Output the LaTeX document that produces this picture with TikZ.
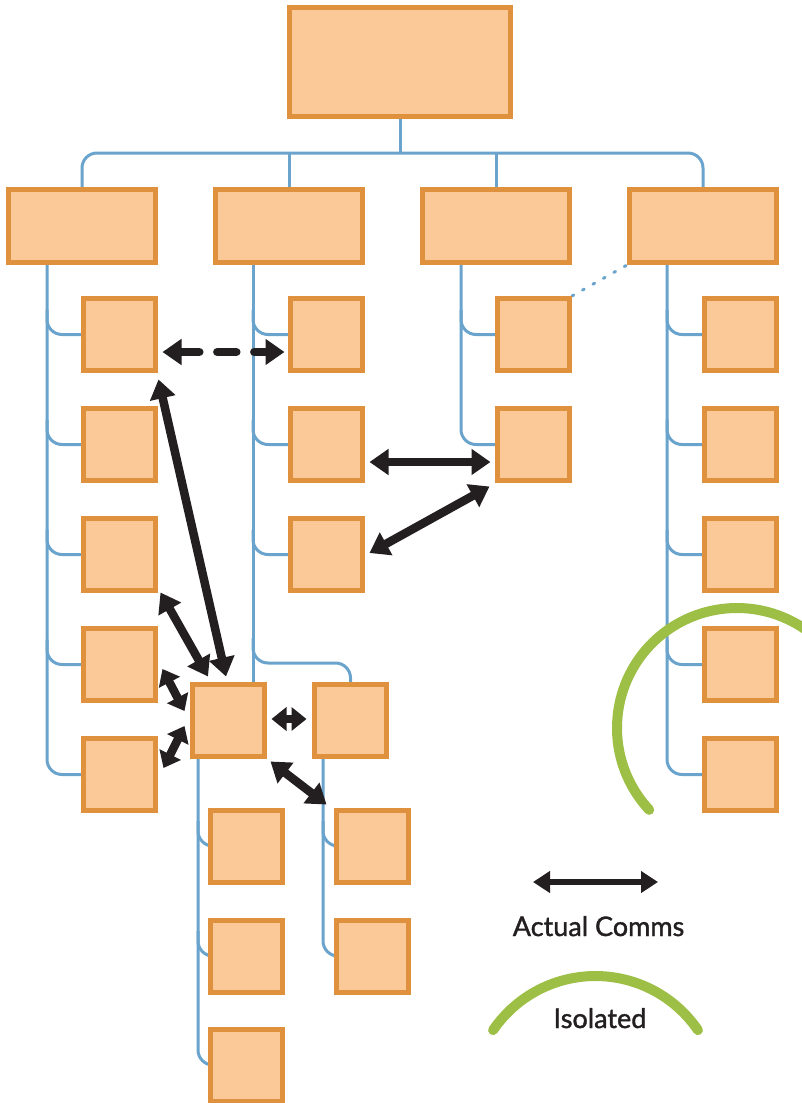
\documentclass[tikz,border=0pt]{standalone}
\usepackage{fontspec}
\setmainfont{Lato}[FakeBold=1.4]
\usetikzlibrary{arrows.meta,calc,backgrounds}
\definecolor{boxfill}{HTML}{FBC898}
\definecolor{boxline}{HTML}{E0913D}
\definecolor{treeblue}{HTML}{6AA3CC}
\definecolor{commblack}{HTML}{231F20}
\definecolor{isogreen}{HTML}{9DBF45}
\begin{document}
\begin{tikzpicture}[x=1pt,y=-1pt,
  box/.style={draw=boxline,fill=boxfill,line width=5pt,inner sep=0pt,minimum width=72pt,minimum height=72pt},
  bigbox/.style={box,minimum width=147pt,minimum height=73pt},
  tree/.style={draw=treeblue,line width=3pt,rounded corners=15pt},
  dotline/.style={draw=treeblue,line width=3pt,dash pattern=on 2pt off 10pt,line cap=round},
  comm/.style={draw=commblack,line width=8.5pt,{Triangle[length=19pt,width=25pt]}-{Triangle[length=19pt,width=25pt]}},
  shortcomm/.style={draw=commblack,line width=8.5pt,{Triangle[length=15pt,width=23pt]}-{Triangle[length=15pt,width=23pt]}},
  dashcomm/.style={comm,dash pattern=on 19pt off 18pt,line cap=round},
  legendcomm/.style={draw=commblack,line width=5.5pt,{Triangle[length=17pt,width=21pt]}-{Triangle[length=17pt,width=21pt]}},
  iso/.style={draw=isogreen,line width=10pt,line cap=round},
  lbl/.style={anchor=base,text=commblack,font=\fontsize{27}{31}\selectfont}]
\useasboundingbox (0,0) rectangle (802,1103);
\clip (0,0) rectangle (802,1103);

% trunk coordinates
\coordinate (t1) at (47,0);
\coordinate (t2) at (253,0);
\coordinate (t3) at (461,0);
\coordinate (t4) at (667,0);
\coordinate (t5) at (198,0);
\coordinate (t6) at (323,0);
\coordinate (bus) at (400,153);
\coordinate (j2) at (253,663);

% boxes
\node[box,minimum width=221pt,minimum height=109pt] (top) at (400,62) {};
\node[bigbox] (La) at (82,226) {};
\node[bigbox] (Lb) at (289,226) {};
\node[bigbox] (Lc) at (496,226) {};
\node[bigbox] (Ld) at (703,226) {};

\foreach \r/\y in {1/334.5,2/444.5,3/554.5,4/664.5,5/774.5} {
  \node[box] (c1r\r) at (119.5,\y) {};
  \node[box] (c4r\r) at (740.5,\y) {};
}
\foreach \r/\y in {1/334.5,2/444.5,3/554.5} {
  \node[box] (c2r\r) at (326.5,\y) {};
}
\foreach \r/\y in {1/334.5,2/444.5} {
  \node[box] (c3r\r) at (533.5,\y) {};
}
\node[box] (hub) at (228,720.5) {};
\node[box] (hub2) at (350.5,720.5) {};
\foreach \r/\y in {1/846,2/956,3/1065} {
  \node[box] (h1r\r) at (246.5,\y) {};
}
\foreach \r/\y in {1/846,2/956} {
  \node[box] (h2r\r) at (372,\y) {};
}

% tree lines
\begin{scope}[on background layer]
\draw[tree] (top.south) -- (bus);
\draw[tree] (La.north) |- (bus) -| (Ld.north);
\draw[tree] (Lb.north) -- (Lb.north |- bus);
\draw[tree] (Lc.north) -- (Lc.north |- bus);
% column 1
\draw[tree] (La.south -| t1) |- (c1r5.west);
\foreach \n in {c1r1,c1r2,c1r3,c1r4}
  \draw[tree] ($(\n.west -| t1)+(0,-25)$) |- (\n.west);
% column 2
\draw[tree] (Lb.south -| t2) -- (hub.north -| t2);
\foreach \n in {c2r1,c2r2,c2r3}
  \draw[tree] ($(\n.west -| t2)+(0,-25)$) |- (\n.west);
\draw[tree] ($(j2)+(0,-25)$) -- (j2) -| (hub2.north);
% column 3
\draw[tree] (Lc.south -| t3) |- (c3r2.west);
\draw[tree] ($(c3r1.west -| t3)+(0,-25)$) |- (c3r1.west);
% column 4
\draw[tree] (Ld.south -| t4) |- (c4r5.west);
\foreach \n in {c4r1,c4r2,c4r3,c4r4}
  \draw[tree] ($(\n.west -| t4)+(0,-25)$) |- (\n.west);
% under hub
\draw[tree] (hub.south -| t5) |- (h1r3.west);
\foreach \n in {h1r1,h1r2}
  \draw[tree] ($(\n.west -| t5)+(0,-25)$) |- (\n.west);
% under hub2
\draw[tree] (hub2.south -| t6) |- (h2r2.west);
\draw[tree] ($(h2r1.west -| t6)+(0,-25)$) |- (h2r1.west);
% dotted link
\draw[dotline] (c3r1.north east) -- (Ld.south west);
\end{scope}

% communication arrows
\draw[dashcomm] ($(c1r1.east)+(4.5,17.5)$) -- ($(c2r1.west)+(-3.5,17.5)$);
\draw[comm] ($(c2r2.east)+(4.5,17.5)$) -- ($(c3r2.west)+(-4.5,17.5)$);
\draw[comm] ($(c2r3.east)+(4.5,-1.5)$) -- ($(c3r2.south west)+(-5.5,3.5)$);
\draw[comm] ($(c1r1.south east)+(0.5,6.5)$) -- ($(hub.north)+(-2,-5.5)$);
\draw[comm] ($(c1r4.north east)+(2.5,-33.5)$) -- ($(hub.north)+(-20,-5.5)$);
\draw[shortcomm] ($(c1r4.east)+(4.5,4.5)$) -- ($(hub.west)+(-5,-9.5)$);
\draw[shortcomm] ($(hub.west)+(-5,5.5)$) -- ($(c1r5.east)+(5.5,-6.5)$);
\draw[shortcomm] ($(hub.east)+(5,-1.5)$) -- ($(hub2.west)+(-5.5,-1.5)$);
\draw[comm] ($(hub.south east)+(4,2.5)$) -- ($(h2r1.north west)+(-7,-3)$);

% isolated arc
\coordinate (gc) at (737,728);
\draw[iso] (gc) ++(137:120) arc[start angle=137,end angle=330,radius=120];

% legend
\coordinate (la) at (533,882);
\coordinate (lb) at (658,882);
\draw[legendcomm] (la) -- (lb);
\node[lbl] (lblcomm) at (598.5,936) {Actual Comms};
\coordinate (lc) at (595.5,1100);
\draw[iso] (lc) ++(214.3:124) arc[start angle=214.3,end angle=325.7,radius=124];
\node[lbl] (lbliso) at (600,1028) {Isolated};
\end{tikzpicture}
\end{document}
